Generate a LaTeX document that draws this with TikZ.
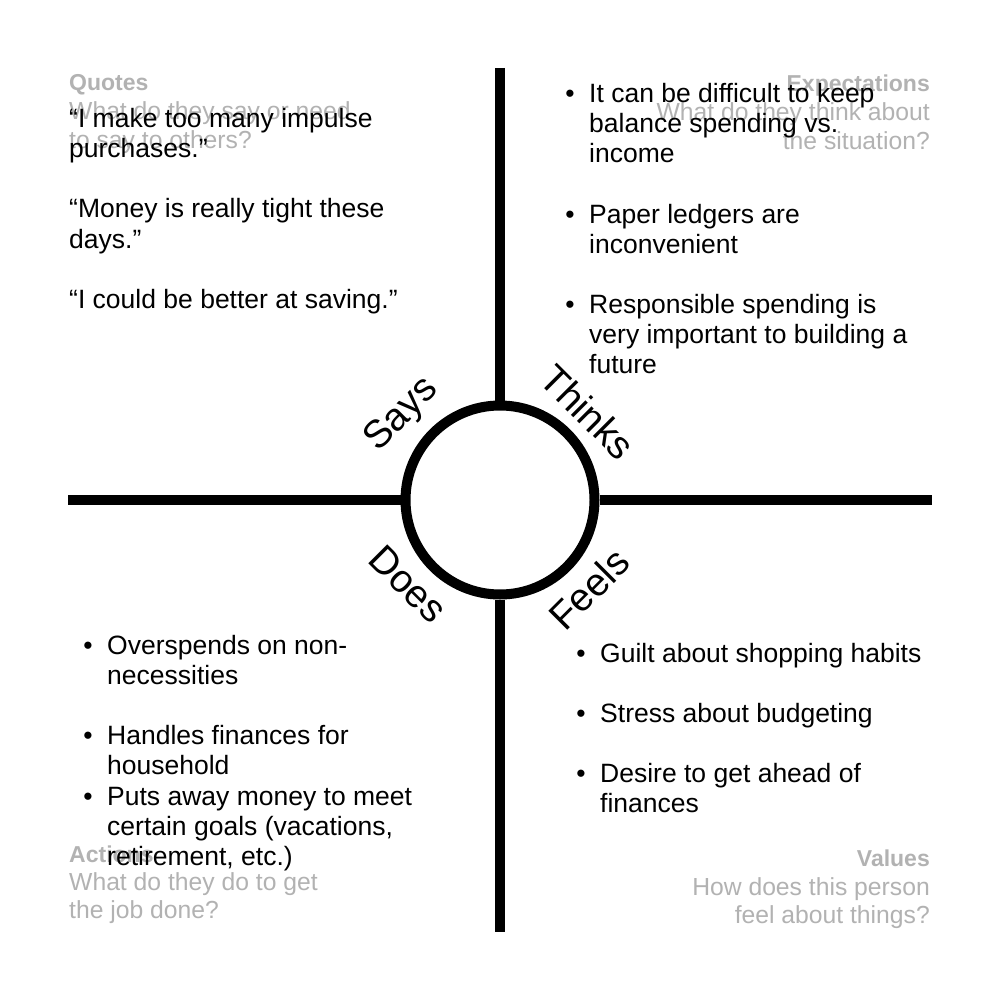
\documentclass[tikz,border=0pt]{standalone}
\usepackage{fontspec}
\setmainfont{Liberation Sans}
\definecolor{hint}{RGB}{178,178,178}
\tikzset{
  body/.style={anchor=base west, inner sep=0pt, font=\fontsize{26.5}{30}\selectfont, text=black},
  bul/.style={anchor=base, inner sep=0pt, font=\fontsize{26.5}{30}\selectfont, text=black},
  hintL/.style={anchor=base west, inner sep=0pt, font=\fontsize{24.7}{29}\selectfont, text=hint},
  hintR/.style={anchor=base east, inner sep=0pt, font=\fontsize{24.7}{29}\selectfont, text=hint},
  titleL/.style={anchor=base west, inner sep=0pt, font=\fontsize{23}{26}\selectfont\bfseries, text=hint},
  titleR/.style={anchor=base east, inner sep=0pt, font=\fontsize{23}{26}\selectfont\bfseries, text=hint},
  quad/.style={inner sep=0pt, font=\fontsize{39}{42}\selectfont, text=black},
  axis/.style={line width=10pt, black}
}
\begin{document}
\begin{tikzpicture}[x=1pt, y=-1pt]
\useasboundingbox[fill=white] (0,0) rectangle (1000,1000);
% axes
\coordinate (top) at (500,68);
\coordinate (bot) at (500,932);
\coordinate (lft) at (68,500);
\coordinate (rgt) at (932,500);
\node[circle, draw, line width=10pt, minimum size=189pt, inner sep=0pt, fill=white] (hub) at (500,500) {};
\draw[axis] (top) -- (hub.north);
\draw[axis] (hub.south) -- (bot);
\draw[axis] (lft) -- (hub.west);
\draw[axis] (hub.east) -- (rgt);
% quadrant labels
\node[quad, rotate=45] (says) at (402,415) {Says};
\node[quad, rotate=-45] (thinks) at (588,412) {Thinks};
\node[quad, rotate=-45] (does) at (408,584) {Does};
\node[quad, rotate=45] (feels) at (589,589) {Feels};
% hints
\node[titleL] (qt) at (69,91) {Quotes};
\node[hintL] (qh1) at (69,120) {What do they say or need};
\node[hintL] (qh2) at (69,149) {to say to others?};
\node[titleR] (et) at (930,92) {Expectations};
\node[hintR] (eh1) at (930,121) {What do they think about};
\node[hintR] (eh2) at (930,150) {the situation?};
\node[titleL] (at) at (69,862) {Actions};
\node[hintL] (ah1) at (69,890) {What do they do to get};
\node[hintL] (ah2) at (69,918) {the job done?};
\node[titleR] (vt) at (930,866) {Values};
\node[hintR] (vh1) at (930,895) {How does this person};
\node[hintR] (vh2) at (930,923) {feel about things?};
% says content
\node[body] (s1) at (69,128) {“I make too many impulse};
\node[body] (s2) at (69,158) {purchases.”};
\node[body] (s3) at (69,218) {“Money is really tight these};
\node[body] (s4) at (69,248) {days.”};
\node[body] (s5) at (69,308) {“I could be better at saving.”};
% thinks content
\node[bul] (tb1) at (570,103) {•};
\node[body] (t1) at (589,103) {It can be difficult to keep};
\node[body] (t2) at (589,133) {balance spending vs.};
\node[body] (t3) at (589,163) {income};
\node[bul] (tb2) at (570,223) {•};
\node[body] (t4) at (589,223) {Paper ledgers are};
\node[body] (t5) at (589,253) {inconvenient};
\node[bul] (tb3) at (570,313) {•};
\node[body] (t6) at (589,313) {Responsible spending is};
\node[body] (t7) at (589,343) {very important to building a};
\node[body] (t8) at (589,373) {future};
% does content
\node[bul] (db1) at (88,654) {•};
\node[body] (d1) at (107,654) {Overspends on non-};
\node[body] (d2) at (107,684) {necessities};
\node[bul] (db2) at (88,744) {•};
\node[body] (d3) at (107,744) {Handles finances for};
\node[body] (d4) at (107,774) {household};
\node[bul] (db3) at (88,805) {•};
\node[body] (d5) at (107,805) {Puts away money to meet};
\node[body] (d6) at (107,835) {certain goals (vacations,};
\node[body] (d7) at (107,865) {retirement, etc.)};
% feels content
\node[bul] (fb1) at (581,662) {•};
\node[body] (f1) at (600,662) {Guilt about shopping habits};
\node[bul] (fb2) at (581,722) {•};
\node[body] (f2) at (600,722) {Stress about budgeting};
\node[bul] (fb3) at (581,782) {•};
\node[body] (f3) at (600,782) {Desire to get ahead of};
\node[body] (f4) at (600,812) {finances};
\end{tikzpicture}
\end{document}
